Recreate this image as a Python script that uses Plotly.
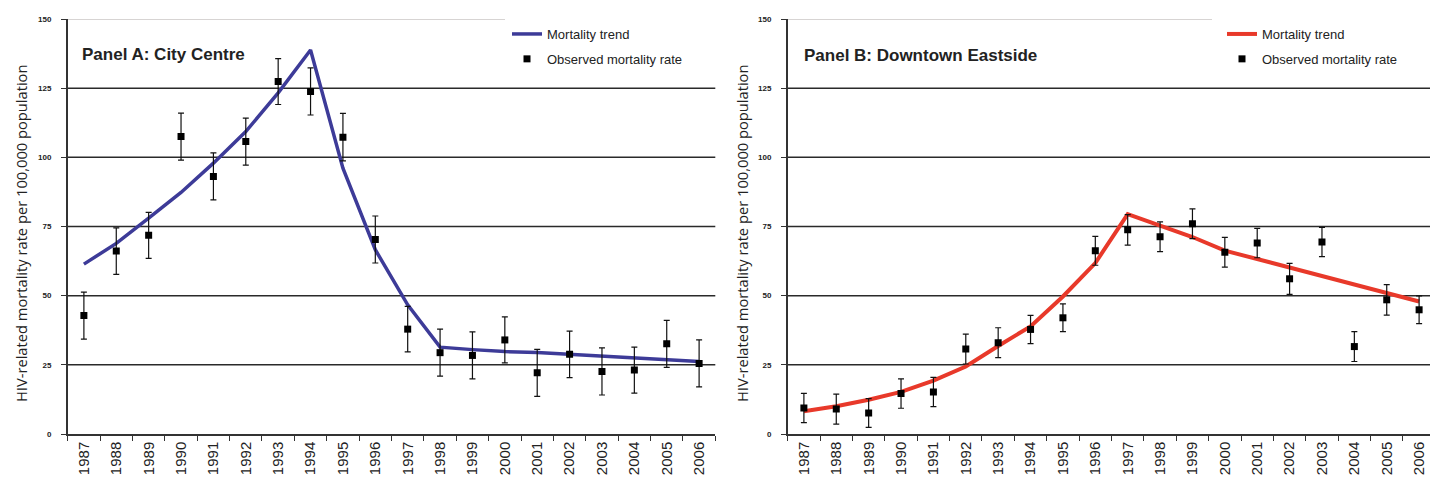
import plotly.graph_objects as go

# ---------------- data ----------------
years = ["1987", "1988", "1989", "1990", "1991", "1992", "1993", "1994", "1995", "1996",
         "1997", "1998", "1999", "2000", "2001", "2002", "2003", "2004", "2005", "2006"]

# Panel A: City Centre
trend_a = [61.4, 68.9, 78.0, 87.3, 97.9, 109.3, 123.3, 138.8, 96.1, 66.6,
           46.7, 31.4, 30.5, 29.8, 29.5, 28.8, 28.4, 27.4, 26.8, 26.2]
obs_a = [42.8, 66.1, 71.8, 107.5, 93.1, 105.7, 127.4, 123.8, 107.3, 70.3,
         37.9, 29.4, 28.4, 34.0, 22.1, 28.8, 22.6, 23.1, 32.6, 25.5]
err_a = [8.5, 8.4, 8.3, 8.5, 8.5, 8.5, 8.3, 8.5, 8.6, 8.5,
         8.2, 8.5, 8.5, 8.3, 8.5, 8.4, 8.5, 8.3, 8.5, 8.5]

# Panel B: Downtown Eastside
trend_b = [8.2, 10.0, 12.4, 15.2, 19.3, 24.4, 31.8, 38.9, 49.7, 61.8,
           79.5, 75.3, 71.2, 66.3, 63.2, 60.2, 56.9, 53.9, 50.9, 47.9]
obs_b = [9.4, 9.0, 7.6, 14.6, 15.2, 30.7, 33.0, 37.8, 42.0, 66.2,
         73.8, 71.3, 76.0, 65.7, 69.0, 56.1, 69.4, 31.6, 48.5, 44.9]
err_b = [5.3, 5.4, 5.2, 5.3, 5.3, 5.4, 5.4, 5.1, 5.0, 5.2,
         5.5, 5.4, 5.4, 5.4, 5.3, 5.6, 5.3, 5.4, 5.5, 5.0]

y_ticks = [0, 25, 50, 75, 100, 125, 150]
grid_values = [25, 50, 75, 100, 125]

panel_titles = ["Panel A: City Centre", "Panel B: Downtown Eastside"]
y_title = "HIV-related mortality rate per 100,000 population"
legend_names = ["Mortality trend", "Observed mortality rate"]

# ---------------- layout geometry ----------------
W, H = 1430, 484
M_T, M_B = 19, 50
PLOT_H = H - M_T - M_B
CAT_W = 32.38
A_LEFT = 67.7
A_RIGHT = A_LEFT + 20 * CAT_W
B_LEFT = 787.7
B_RIGHT = W
B_RANGE_END = -0.5 + (B_RIGHT - B_LEFT) / CAT_W

TEXT = "#222222"
AXIS = "#333333"
FONT = "Liberation Sans, Arial, sans-serif"

fig = go.Figure()

colors = ["#3d3b98", "#e8392a"]
widths = [3.5, 4]
sets = [(trend_a, obs_a, err_a, "x", "y", "legend"),
        (trend_b, obs_b, err_b, "x2", "y2", "legend2")]

for i, (tr, ob, er, xa, ya, lg) in enumerate(sets):
    fig.add_trace(go.Scatter(
        x=years, y=tr, mode="lines", name=legend_names[0],
        line=dict(color=colors[i], width=widths[i]),
        xaxis=xa, yaxis=ya, legend=lg, legendgroup=f"t{i}",
        hoverinfo="skip"))
    fig.add_trace(go.Scatter(
        x=years, y=ob, mode="markers", name=legend_names[1],
        marker=dict(symbol="square", size=7, color="black"),
        error_y=dict(type="data", array=er, visible=True, color="#111111",
                     thickness=1.2, width=3),
        xaxis=xa, yaxis=ya, legend=lg, legendgroup=f"o{i}"))

common_x = dict(type="category", tickson="boundaries", ticks="outside", ticklen=5,
                tickcolor=AXIS, tickwidth=1.2, tickangle=-90,
                tickfont=dict(size=15, family=FONT, color=TEXT),
                showline=True, linecolor=AXIS, linewidth=1.5, showgrid=False,
                zeroline=False, automargin=False, fixedrange=True)
common_y = dict(range=[0, 150], tickvals=y_ticks, ticks="outside", ticklen=5,
                tickcolor=AXIS, tickwidth=1.2,
                tickfont=dict(size=8, family=FONT, color=TEXT, weight="bold"),
                ticklabelstandoff=8,
                showline=True, linecolor=AXIS, linewidth=1.5, showgrid=False,
                zeroline=False, automargin=False, fixedrange=True)

fig.update_layout(
    width=W, height=H,
    margin=dict(l=0, r=0, t=M_T, b=M_B),
    paper_bgcolor="white", plot_bgcolor="white",
    showlegend=True,
    xaxis=dict(domain=[A_LEFT / W, A_RIGHT / W], range=[-0.5, 19.5], **common_x),
    yaxis=dict(anchor="x", **common_y),
    xaxis2=dict(domain=[B_LEFT / W, 1.0], range=[-0.5, B_RANGE_END], anchor="y2", **common_x),
    yaxis2=dict(anchor="x2", **common_y),
    legend=dict(x=507 / W, y=1.0, xanchor="left", yanchor="top",
                bgcolor="rgba(0,0,0,0)", font=dict(size=13, family=FONT, color=TEXT),
                tracegroupgap=5, itemwidth=30),
    legend2=dict(x=1222 / W, y=1.0, xanchor="left", yanchor="top",
                 bgcolor="rgba(0,0,0,0)", font=dict(size=13, family=FONT, color=TEXT),
                 tracegroupgap=5, itemwidth=30),
)

shapes = []
for xr, yr in [("x domain", "y"), ("x2 domain", "y2")]:
    for g in grid_values:
        shapes.append(dict(type="line", xref=xr, yref=yr, x0=0, x1=1, y0=g, y1=g,
                           line=dict(color="#2a2a2a", width=1.5), layer="below"))
# light top border, partly hidden behind the legend
shapes.append(dict(type="line", xref="x domain", yref="y", x0=0,
                   x1=(505 - A_LEFT) / (A_RIGHT - A_LEFT), y0=150, y1=150,
                   line=dict(color="#b0aaa8", width=1.2), layer="below"))
shapes.append(dict(type="line", xref="x2 domain", yref="y2", x0=0,
                   x1=(1212 - B_LEFT) / (B_RIGHT - B_LEFT), y0=150, y1=150,
                   line=dict(color="#b0aaa8", width=1.2), layer="below"))
fig.update_layout(shapes=shapes)

def py(pix):
    return (H - M_B - pix) / PLOT_H

annotations = [
    dict(text=panel_titles[0], xref="paper", yref="paper", x=80 / W, y=py(54),
         xanchor="left", yanchor="middle", showarrow=False,
         font=dict(size=17, family=FONT, color=TEXT, weight="bold")),
    dict(text=panel_titles[1], xref="paper", yref="paper", x=802 / W, y=py(56),
         xanchor="left", yanchor="middle", showarrow=False,
         font=dict(size=17, family=FONT, color=TEXT, weight="bold")),
    dict(text=y_title, xref="paper", yref="paper", x=21 / W, y=py(234),
         xanchor="center", yanchor="middle", textangle=-90, showarrow=False,
         font=dict(size=14.7, family="Open Sans, sans-serif", color=TEXT)),
    dict(text=y_title, xref="paper", yref="paper", x=742 / W, y=py(234),
         xanchor="center", yanchor="middle", textangle=-90, showarrow=False,
         font=dict(size=14.7, family="Open Sans, sans-serif", color=TEXT)),
]
fig.update_layout(annotations=annotations)

fig.write_html("out.html",
               config={"displayModeBar": False},
               post_script="document.body.style.margin='0';document.body.style.overflow='hidden';")
